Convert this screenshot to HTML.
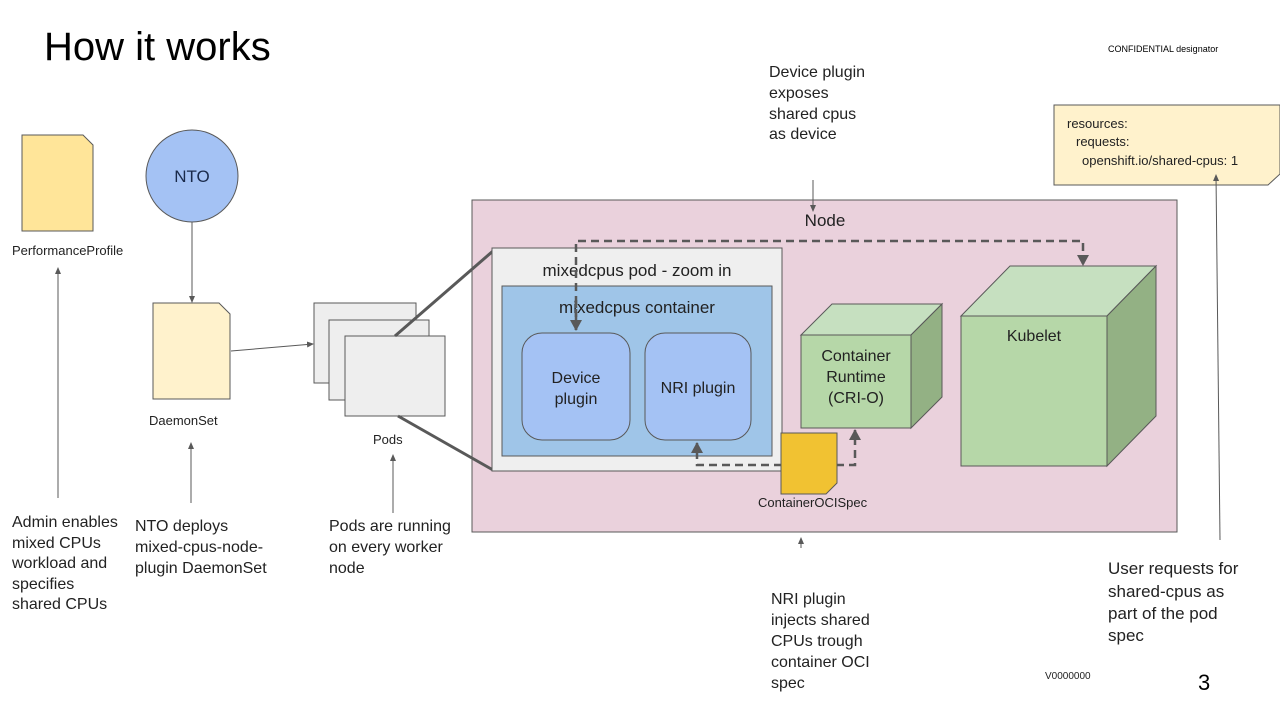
<!DOCTYPE html>
<html><head><meta charset="utf-8"><style>
body{margin:0;background:#fff;}
svg{display:block;font-family:"Liberation Sans",sans-serif;}
</style></head><body>
<svg width="1280" height="720" viewBox="0 0 1280 720" xmlns="http://www.w3.org/2000/svg">
<defs>
<marker id="a" markerWidth="8" markerHeight="8" refX="6" refY="4" orient="auto" markerUnits="userSpaceOnUse"><path d="M0,1 L7,4 L0,7 z" fill="#595959"/></marker>
<marker id="b" markerWidth="14" markerHeight="14" refX="10" refY="7" orient="auto" markerUnits="userSpaceOnUse"><path d="M0,1 L11,7 L0,13 z" fill="#595959"/></marker>
</defs>
<text x="44" y="60" font-size="40" fill="#000">How it works</text>
<text x="1108" y="52" font-size="9" fill="#000">CONFIDENTIAL designator</text>

<path d="M22,135 H83 L93,145 V231 H22 Z" fill="#ffe599" stroke="#595959"/>
<text x="12" y="255" font-size="13" fill="#222">PerformanceProfile</text>
<circle cx="192" cy="176" r="46" fill="#a4c2f4" stroke="#595959"/>
<text x="192" y="182" font-size="17" text-anchor="middle" fill="#1a2a4a">NTO</text>
<line x1="192" y1="222" x2="192" y2="302" stroke="#595959" marker-end="url(#a)"/>
<path d="M153,303 H219 L230,314 V399 H153 Z" fill="#fff2cc" stroke="#595959"/>
<text x="149" y="425" font-size="13" fill="#222">DaemonSet</text>
<line x1="231" y1="351" x2="313" y2="344" stroke="#595959" marker-end="url(#a)"/>
<rect x="314" y="303" width="102" height="80" fill="#eeeeee" stroke="#595959"/>
<rect x="329" y="320" width="100" height="80" fill="#eeeeee" stroke="#595959"/>
<rect x="345" y="336" width="100" height="80" fill="#eeeeee" stroke="#595959"/>
<text x="373" y="444" font-size="13" fill="#222">Pods</text>

<rect x="472" y="200" width="705" height="332" fill="#ead1dc" stroke="#595959"/>
<text x="825" y="226" font-size="17" text-anchor="middle" fill="#222">Node</text>
<line x1="395" y1="336" x2="493" y2="251" stroke="#595959" stroke-width="3"/>
<line x1="398" y1="416" x2="493" y2="470" stroke="#595959" stroke-width="3"/>
<rect x="492" y="248" width="290" height="223" fill="#efefef" stroke="#595959"/>
<text x="637" y="276" font-size="17" text-anchor="middle" fill="#222">mixedcpus pod - zoom in</text>
<rect x="502" y="286" width="270" height="170" fill="#9fc5e8" stroke="#595959"/>
<text x="637" y="313" font-size="17" text-anchor="middle" fill="#222">mixedcpus container</text>
<rect x="522" y="333" width="108" height="107" rx="20" fill="#a4c2f4" stroke="#595959"/>
<text x="576" y="383" font-size="16" text-anchor="middle" fill="#222">Device</text>
<text x="576" y="404" font-size="16" text-anchor="middle" fill="#222">plugin</text>
<rect x="645" y="333" width="106" height="107" rx="20" fill="#a4c2f4" stroke="#595959"/>
<text x="698" y="393" font-size="16" text-anchor="middle" fill="#222">NRI plugin</text>

<path d="M801,335 L832,304 H942 L911,335 Z" fill="#c6e0c0" stroke="#595959"/>
<path d="M911,335 L942,304 V397 L911,428 Z" fill="#93b184" stroke="#595959"/>
<rect x="801" y="335" width="110" height="93" fill="#b6d7a8" stroke="#595959"/>
<text x="856" y="361" font-size="16" text-anchor="middle" fill="#222">Container</text>
<text x="856" y="382" font-size="16" text-anchor="middle" fill="#222">Runtime</text>
<text x="856" y="403" font-size="16" text-anchor="middle" fill="#222">(CRI-O)</text>

<path d="M961,316 L1010,266 H1156 L1107,316 Z" fill="#c6e0c0" stroke="#595959"/>
<path d="M1107,316 L1156,266 V416 L1107,466 Z" fill="#93b184" stroke="#595959"/>
<rect x="961" y="316" width="146" height="150" fill="#b6d7a8" stroke="#595959"/>
<text x="1034" y="341" font-size="16" text-anchor="middle" fill="#222">Kubelet</text>

<path d="M576,330 V241 H1083 V265" fill="none" stroke="#595959" stroke-width="2.5" stroke-dasharray="8,5" marker-end="url(#b)"/>
<path d="M576,300 V330" fill="none" stroke="#595959" stroke-width="2.5" stroke-dasharray="8,5" marker-end="url(#b)"/>
<path d="M782,465 H697 V443" fill="none" stroke="#595959" stroke-width="2.5" stroke-dasharray="8,5" marker-end="url(#b)"/>
<path d="M836,465 H855 V430" fill="none" stroke="#595959" stroke-width="2.5" stroke-dasharray="8,5" marker-end="url(#b)"/>
<path d="M781,433 H837 V483 L826,494 H781 Z" fill="#f1c232" stroke="#595959"/>
<text x="758" y="507" font-size="13" fill="#222">ContainerOCISpec</text>

<path d="M1054,105 H1280 V174 L1268,185 H1054 Z" fill="#fff2cc" stroke="#595959"/>
<text font-size="13" fill="#222"><tspan x="1067" y="128">resources:</tspan><tspan x="1076" y="146">requests:</tspan><tspan x="1082" y="165">openshift.io/shared-cpus: 1</tspan></text>

<g font-size="16" fill="#222">
<text><tspan x="769" y="77">Device plugin</tspan><tspan x="769" y="98">exposes</tspan><tspan x="769" y="119">shared cpus</tspan><tspan x="769" y="139">as device</tspan></text>
<text><tspan x="12" y="527">Admin enables</tspan><tspan x="12" y="548">mixed CPUs</tspan><tspan x="12" y="568">workload and</tspan><tspan x="12" y="589">specifies</tspan><tspan x="12" y="609">shared CPUs</tspan></text>
<text><tspan x="135" y="531">NTO deploys</tspan><tspan x="135" y="552">mixed-cpus-node-</tspan><tspan x="135" y="573">plugin  DaemonSet</tspan></text>
<text><tspan x="329" y="531">Pods are running</tspan><tspan x="329" y="552">on every worker</tspan><tspan x="329" y="573">node</tspan></text>
<text><tspan x="771" y="604">NRI plugin</tspan><tspan x="771" y="625">injects shared</tspan><tspan x="771" y="646">CPUs trough</tspan><tspan x="771" y="667">container OCI</tspan><tspan x="771" y="688">spec</tspan></text>
</g>
<text font-size="17" fill="#222"><tspan x="1108" y="574">User requests for</tspan><tspan x="1108" y="597">shared-cpus as</tspan><tspan x="1108" y="619">part of the pod</tspan><tspan x="1108" y="641">spec</tspan></text>
<text x="1045" y="679" font-size="10" fill="#222">V0000000</text>
<text x="1198" y="690" font-size="22" fill="#000">3</text>

<g stroke="#595959" marker-end="url(#a)">
<line x1="813" y1="180" x2="813" y2="211"/>
<line x1="58" y1="498" x2="58" y2="268"/>
<line x1="191" y1="503" x2="191" y2="443"/>
<line x1="393" y1="513" x2="393" y2="455"/>
<line x1="801" y1="548" x2="801" y2="538"/>
<line x1="1220" y1="540" x2="1216" y2="175"/>
</g>
</svg>
</body></html>
